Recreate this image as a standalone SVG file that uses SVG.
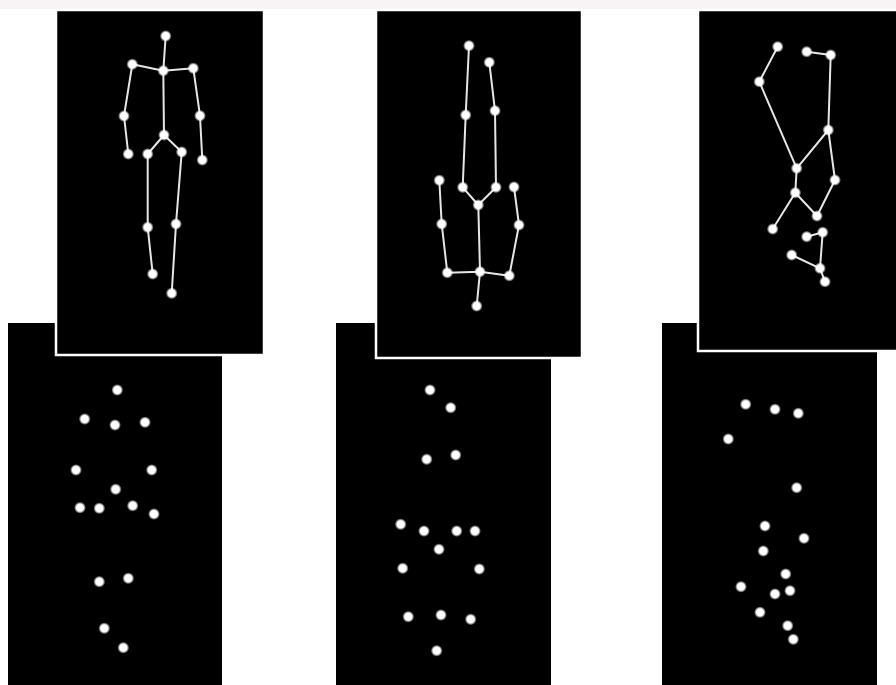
<svg xmlns="http://www.w3.org/2000/svg" width="896" height="685" viewBox="0 0 896 685">
<defs>
<radialGradient id="glow">
<stop offset="0" stop-color="#ffffff"/>
<stop offset="0.6" stop-color="#ffffff"/>
<stop offset="1" stop-color="#ffffff" stop-opacity="0"/>
</radialGradient>
</defs>
<style>
.panel{fill:#000000}
.top{fill:#000000;stroke:#ffffff;stroke-width:2.5}
.bone{stroke:#e6e6e6;stroke-width:2;stroke-linecap:round;fill:none}
.j{fill:url(#glow)}
</style>
<rect x="0" y="0" width="896" height="685" fill="#ffffff"/>
<rect x="0" y="0" width="896" height="9" fill="#f8f4f5"/>

<g id="bottom-panels">
<rect class="panel" x="8" y="323" width="214" height="362"/>
<rect class="panel" x="336" y="323" width="215" height="362"/>
<rect class="panel" x="662" y="323" width="215" height="362"/>
</g>

<g id="top-panels">
<rect class="top" x="56" y="10" width="208" height="345"/>
<rect class="top" x="376" y="10" width="206" height="348"/>
<rect class="top" x="698" y="10" width="210" height="341"/>
</g>

<g id="connectors">
<g id="skeleton-1-bones">
<line class="bone" x1="165.7" y1="36" x2="163.3" y2="70.7"/>
<line class="bone" x1="163.3" y1="70.7" x2="132.3" y2="64.3"/>
<line class="bone" x1="163.3" y1="70.7" x2="193.3" y2="68.3"/>
<line class="bone" x1="132.3" y1="64.3" x2="124" y2="116"/>
<line class="bone" x1="124" y1="116" x2="128.3" y2="154"/>
<line class="bone" x1="193.3" y1="68.3" x2="200" y2="115.7"/>
<line class="bone" x1="200" y1="115.7" x2="202.3" y2="160"/>
<line class="bone" x1="163.3" y1="70.7" x2="164" y2="135"/>
<line class="bone" x1="164" y1="135" x2="147.7" y2="154"/>
<line class="bone" x1="164" y1="135" x2="181.7" y2="152"/>
<line class="bone" x1="147.7" y1="154" x2="147.7" y2="227.3"/>
<line class="bone" x1="147.7" y1="227.3" x2="152.7" y2="274"/>
<line class="bone" x1="181.7" y1="152" x2="176" y2="224"/>
<line class="bone" x1="176" y1="224" x2="171.7" y2="293.3"/>
</g>
<g id="skeleton-2-bones">
<line class="bone" x1="469" y1="45.7" x2="465.7" y2="115"/>
<line class="bone" x1="465.7" y1="115" x2="462.7" y2="187.3"/>
<line class="bone" x1="462.7" y1="187.3" x2="478.3" y2="205"/>
<line class="bone" x1="489.3" y1="62.3" x2="495" y2="110.7"/>
<line class="bone" x1="495" y1="110.7" x2="496" y2="187.3"/>
<line class="bone" x1="496" y1="187.3" x2="478.3" y2="205"/>
<line class="bone" x1="478.3" y1="205" x2="480" y2="271.7"/>
<line class="bone" x1="439.3" y1="180.3" x2="441.7" y2="224"/>
<line class="bone" x1="441.7" y1="224" x2="447.3" y2="272.7"/>
<line class="bone" x1="447.3" y1="272.7" x2="480" y2="271.7"/>
<line class="bone" x1="480" y1="271.7" x2="509.3" y2="275.7"/>
<line class="bone" x1="509.3" y1="275.7" x2="519" y2="225"/>
<line class="bone" x1="519" y1="225" x2="514" y2="187"/>
<line class="bone" x1="480" y1="271.7" x2="476.7" y2="306"/>
</g>
<g id="skeleton-3-bones">
<line class="bone" x1="777.7" y1="46.7" x2="759.3" y2="81.7"/>
<line class="bone" x1="759.3" y1="81.7" x2="796.7" y2="168.3"/>
<line class="bone" x1="806.7" y1="51.7" x2="830.7" y2="55"/>
<line class="bone" x1="830.7" y1="55" x2="828.3" y2="130"/>
<line class="bone" x1="828.3" y1="130" x2="796.7" y2="168.3"/>
<line class="bone" x1="828.3" y1="130" x2="835" y2="180"/>
<line class="bone" x1="835" y1="180" x2="817" y2="216"/>
<line class="bone" x1="817" y1="216" x2="795.3" y2="192.7"/>
<line class="bone" x1="796.7" y1="168.3" x2="795.3" y2="192.7"/>
<line class="bone" x1="795.3" y1="192.7" x2="772.7" y2="229"/>
<line class="bone" x1="806.7" y1="236.7" x2="822.7" y2="232.3"/>
<line class="bone" x1="822.7" y1="232.3" x2="820" y2="268.3"/>
<line class="bone" x1="791.7" y1="255" x2="820" y2="268.3"/>
<line class="bone" x1="820" y1="268.3" x2="825" y2="281.7"/>
</g>
</g>

<g id="skeleton-1">
<circle class="j" cx="165.7" cy="36" r="6"/>
<circle class="j" cx="132.3" cy="64.3" r="6"/>
<circle class="j" cx="163.3" cy="70.7" r="6"/>
<circle class="j" cx="193.3" cy="68.3" r="6"/>
<circle class="j" cx="124" cy="116" r="6"/>
<circle class="j" cx="200" cy="115.7" r="6"/>
<circle class="j" cx="164" cy="135" r="6"/>
<circle class="j" cx="128.3" cy="154" r="6"/>
<circle class="j" cx="147.7" cy="154" r="6"/>
<circle class="j" cx="181.7" cy="152" r="6"/>
<circle class="j" cx="202.3" cy="160" r="6"/>
<circle class="j" cx="147.7" cy="227.3" r="6"/>
<circle class="j" cx="176" cy="224" r="6"/>
<circle class="j" cx="152.7" cy="274" r="6"/>
<circle class="j" cx="171.7" cy="293.3" r="6"/>
</g>

<g id="skeleton-2">
<circle class="j" cx="469" cy="45.7" r="6"/>
<circle class="j" cx="489.3" cy="62.3" r="6"/>
<circle class="j" cx="465.7" cy="115" r="6"/>
<circle class="j" cx="495" cy="110.7" r="6"/>
<circle class="j" cx="439.3" cy="180.3" r="6"/>
<circle class="j" cx="462.7" cy="187.3" r="6"/>
<circle class="j" cx="496" cy="187.3" r="6"/>
<circle class="j" cx="514" cy="187" r="6"/>
<circle class="j" cx="478.3" cy="205" r="6"/>
<circle class="j" cx="441.7" cy="224" r="6"/>
<circle class="j" cx="519" cy="225" r="6"/>
<circle class="j" cx="447.3" cy="272.7" r="6"/>
<circle class="j" cx="480" cy="271.7" r="6"/>
<circle class="j" cx="509.3" cy="275.7" r="6"/>
<circle class="j" cx="476.7" cy="306" r="6"/>
</g>

<g id="skeleton-3">
<circle class="j" cx="777.7" cy="46.7" r="6"/>
<circle class="j" cx="806.7" cy="51.7" r="6"/>
<circle class="j" cx="830.7" cy="55" r="6"/>
<circle class="j" cx="759.3" cy="81.7" r="6"/>
<circle class="j" cx="828.3" cy="130" r="6"/>
<circle class="j" cx="796.7" cy="168.3" r="6"/>
<circle class="j" cx="835" cy="180" r="6"/>
<circle class="j" cx="795.3" cy="192.7" r="6"/>
<circle class="j" cx="817" cy="216" r="6"/>
<circle class="j" cx="772.7" cy="229" r="6"/>
<circle class="j" cx="806.7" cy="236.7" r="6"/>
<circle class="j" cx="822.7" cy="232.3" r="6"/>
<circle class="j" cx="791.7" cy="255" r="6"/>
<circle class="j" cx="820" cy="268.3" r="6"/>
<circle class="j" cx="825" cy="281.7" r="6"/>
</g>

<g id="points-1">
<circle class="j" cx="117.3" cy="390" r="6"/>
<circle class="j" cx="84.7" cy="419" r="6"/>
<circle class="j" cx="115" cy="425" r="6"/>
<circle class="j" cx="145" cy="422.3" r="6"/>
<circle class="j" cx="76" cy="470" r="6"/>
<circle class="j" cx="151.7" cy="470" r="6"/>
<circle class="j" cx="115.7" cy="489.3" r="6"/>
<circle class="j" cx="80" cy="507.7" r="6"/>
<circle class="j" cx="99.3" cy="508.3" r="6"/>
<circle class="j" cx="132.7" cy="505.7" r="6"/>
<circle class="j" cx="154" cy="514" r="6"/>
<circle class="j" cx="99.3" cy="581.7" r="6"/>
<circle class="j" cx="128.3" cy="578.3" r="6"/>
<circle class="j" cx="104.3" cy="628.3" r="6"/>
<circle class="j" cx="123.3" cy="647.7" r="6"/>
</g>

<g id="points-2">
<circle class="j" cx="430" cy="390" r="6"/>
<circle class="j" cx="450.7" cy="407.7" r="6"/>
<circle class="j" cx="426.7" cy="459.3" r="6"/>
<circle class="j" cx="455.7" cy="455" r="6"/>
<circle class="j" cx="400.7" cy="524.3" r="6"/>
<circle class="j" cx="424" cy="531" r="6"/>
<circle class="j" cx="456.7" cy="531" r="6"/>
<circle class="j" cx="475" cy="531" r="6"/>
<circle class="j" cx="439" cy="549.3" r="6"/>
<circle class="j" cx="402.7" cy="568.3" r="6"/>
<circle class="j" cx="479.3" cy="569" r="6"/>
<circle class="j" cx="408.3" cy="616.7" r="6"/>
<circle class="j" cx="441" cy="615" r="6"/>
<circle class="j" cx="470.7" cy="619.3" r="6"/>
<circle class="j" cx="436.7" cy="650.7" r="6"/>
</g>

<g id="points-3">
<circle class="j" cx="745.7" cy="404.3" r="6"/>
<circle class="j" cx="775" cy="409.3" r="6"/>
<circle class="j" cx="798.3" cy="413.3" r="6"/>
<circle class="j" cx="728.3" cy="439" r="6"/>
<circle class="j" cx="796.7" cy="487.7" r="6"/>
<circle class="j" cx="765" cy="526" r="6"/>
<circle class="j" cx="804" cy="538.3" r="6"/>
<circle class="j" cx="763.3" cy="551" r="6"/>
<circle class="j" cx="785.7" cy="574" r="6"/>
<circle class="j" cx="741" cy="586.7" r="6"/>
<circle class="j" cx="775" cy="594" r="6"/>
<circle class="j" cx="790" cy="590.7" r="6"/>
<circle class="j" cx="760" cy="612.3" r="6"/>
<circle class="j" cx="787.7" cy="625.7" r="6"/>
<circle class="j" cx="793.3" cy="639.3" r="6"/>
</g>
</svg>
